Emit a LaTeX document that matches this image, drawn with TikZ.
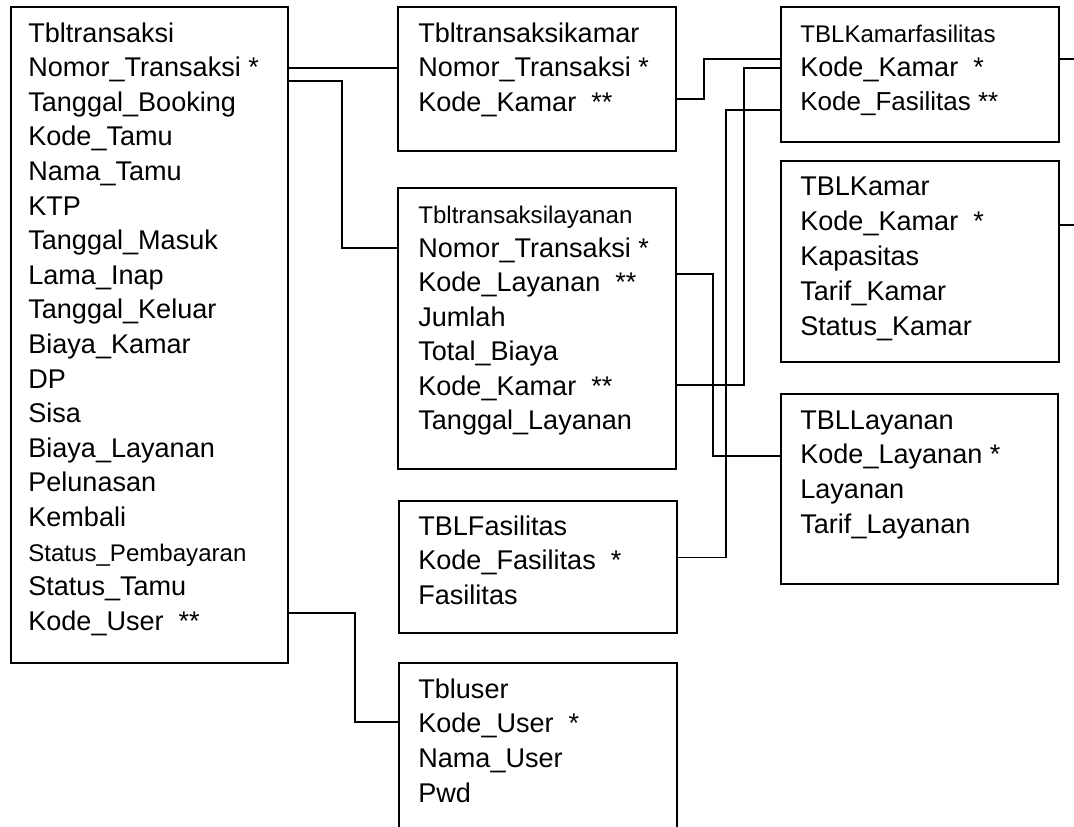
\documentclass[tikz,border=0pt]{standalone}
\usepackage{fontspec}
\setmainfont{Liberation Sans}
\usetikzlibrary{calc}
\newcommand\smallfld{\fontsize{13.7}{16}\selectfont}

\begin{document}
\begin{tikzpicture}[x=0.02cm,y=-0.02cm,
  tbl/.style={draw,line width=1.1pt,anchor=north west,inner sep=0pt,minimum width=5.56cm},
  fld/.style={anchor=base west,inner sep=0pt,font=\fontsize{15.4}{18}\selectfont},
  link/.style={line width=1.1pt}]
\useasboundingbox (0,0) rectangle (1074,826);
\clip (0,0) rectangle (1074,826);
% tables
\node[tbl,minimum width=5.54cm,minimum height=13.12cm] (tr) at (10,6) {};
\node[tbl,minimum height=2.88cm] (tk) at (397,6) {};
\node[tbl,minimum height=5.62cm] (tl) at (397,187) {};
\node[tbl,minimum height=2.64cm] (tf) at (398,500) {};
\node[tbl,minimum height=4.4cm] (tu) at (398,662) {};
\node[tbl,minimum height=2.7cm] (kf) at (780,6) {};
\node[tbl,minimum height=4.02cm] (km) at (780,160) {};
\node[tbl,minimum width=5.54cm,minimum height=3.8cm] (ly) at (780,393) {};
% fields
\foreach \t [count=\i] in {Tbltransaksi,Nomor\_Transaksi *,Tanggal\_Booking,Kode\_Tamu,
  Nama\_Tamu,KTP,Tanggal\_Masuk,Lama\_Inap,Tanggal\_Keluar,Biaya\_Kamar,DP,Sisa,
  Biaya\_Layanan,Pelunasan,Kembali,{\smallfld Status\_Pembayaran},Status\_Tamu,Kode\_User~ **}
  \node[fld] (tr-\i) at (28,{42+34.6*(\i-1)}) {\t};
\foreach \t [count=\i] in {Tbltransaksikamar,Nomor\_Transaksi *,Kode\_Kamar~ **}
  \node[fld] (tk-\i) at (418,{42+34.6*(\i-1)}) {\t};
\foreach \t [count=\i] in {{\smallfld Tbltransaksilayanan},Nomor\_Transaksi *,Kode\_Layanan~ **,
  Jumlah,Total\_Biaya,Kode\_Kamar~ **,Tanggal\_Layanan}
  \node[fld] (tl-\i) at (418,{223+34.4*(\i-1)}) {\t};
\foreach \t [count=\i] in {TBLFasilitas,Kode\_Fasilitas~ *,Fasilitas}
  \node[fld] (tf-\i) at (418,{535+34.5*(\i-1)}) {\t};
\foreach \t [count=\i] in {Tbluser,Kode\_User~ *,Nama\_User,Pwd}
  \node[fld] (tu-\i) at (418,{698+34.7*(\i-1)}) {\t};
\foreach \t [count=\i] in {{\smallfld TBLKamarfasilitas},Kode\_Kamar~ *,{\fontsize{14.8}{17}\selectfont Kode\_Fasilitas **}}
  \node[fld] (kf-\i) at (800,{42+34*(\i-1)}) {\t};
\foreach \t [count=\i] in {TBLKamar,Kode\_Kamar~ *,Kapasitas,Tarif\_Kamar,Status\_Kamar}
  \node[fld] (km-\i) at (800,{195+35*(\i-1)}) {\t};
\foreach \t [count=\i] in {TBLLayanan,Kode\_Layanan *,Layanan,Tarif\_Layanan}
  \node[fld] (ly-\i) at (800,{429+34.7*(\i-1)}) {\t};
\coordinate (kfout) at (1080,59);
\coordinate (kmout) at (1080,225);
% relations
\draw[link] (tr-2.base -| tr.east) ++(0,-9) -- ($(tk-2.base -| tk.west)+(0,-9)$);
\draw[link] (tr-2.base -| tr.east) ++(0,4) -- ++(53,0) |- ($(tl-2.base -| tl.west)+(0,-9)$);
\draw[link] (tr-18.base -| tr.east) ++(0,-17) -- ++(66,0) |- ($(tu-2.base -| tu.west)+(0,-11)$);
\draw[link] (tk-3.base -| tk.east) ++(0,-12) -- ++(27,0) |- ($(kf-2.base -| kf.west)+(0,-17)$);
\draw[link] (tl-6.base -| tl.east) ++(0,-10) -- ++(67,0) |- ($(kf-2.base -| kf.west)+(0,-8)$);
\draw[link] (tl-3.base -| tl.east) ++(0,-18) -- ++(36,0) |- ($(ly-2.base -| ly.west)+(0,-8)$);
\draw[link] (tf-2.base -| tf.east) ++(0,-12) -- ++(48,0) |- (kf-3.base -| kf.west);
\draw[link] (kf-2.base -| kf.east) ++(0,-17) -- (kfout);
\draw[link] (km-2.base -| km.east) ++(0,-5) -- (kmout);
\end{tikzpicture}
\end{document}
